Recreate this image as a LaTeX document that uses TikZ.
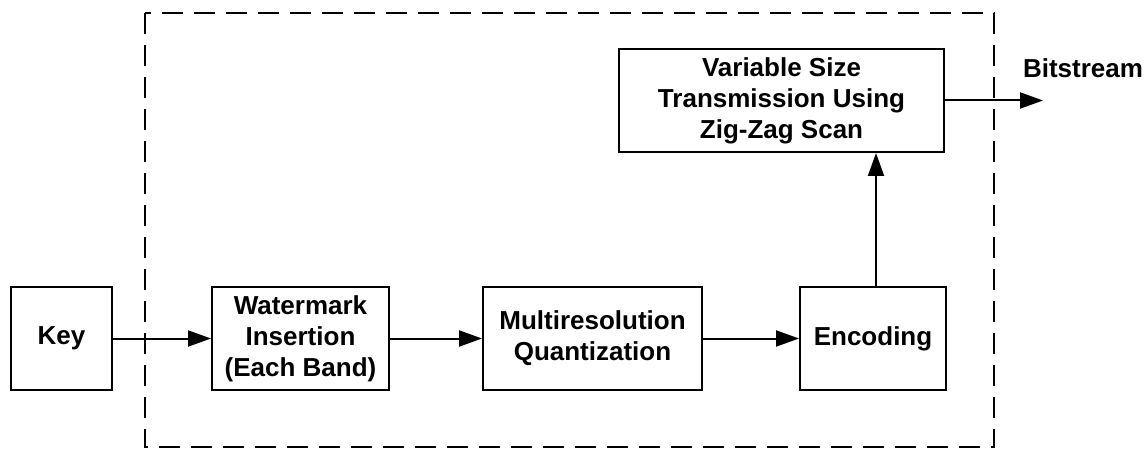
\documentclass[tikz,border=0pt]{standalone}
\usepackage{fontspec}
\setmainfont{Liberation Sans}
\usetikzlibrary{arrows.meta}
\begin{document}
\begin{tikzpicture}[x=1pt,y=-1pt,
  blk/.style={draw,line width=2pt,inner sep=0pt,align=center,
    font=\fontsize{26}{31}\selectfont\bfseries},
  conn/.style={line width=2pt,-{Triangle[length=23pt,width=16pt]}},
  frame/.style={line width=2pt,dash pattern=on 21pt off 11pt}]
\useasboundingbox (0,0) rectangle (1148,449);
\draw[frame] (145,13) rectangle (994,447);
\node[blk,minimum width=101pt,minimum height=103pt] (key) at (61.5,338.5) {Key};
\node[blk,minimum width=177pt,minimum height=103pt] (wm) at (300.5,338.5) {Watermark\\Insertion\\(Each Band)};
\node[blk,minimum width=219pt,minimum height=103pt] (mq) at (592.5,338.5) {Multiresolution\\Quantization};
\node[blk,minimum width=146pt,minimum height=103pt] (enc) at (873,338.5) {Encoding};
\node[blk,minimum width=325pt,minimum height=103pt] (vs) at (781.5,100.5) {Variable Size\\Transmission Using\\Zig-Zag Scan};
\node[font=\fontsize{26}{31}\selectfont\bfseries,inner sep=0pt] (bs) at (1083,68) {Bitstream};
\coordinate (out) at (1043,100.5);
\draw[conn] (key) -- (wm);
\draw[conn] (wm) -- (mq);
\draw[conn] (mq) -- (enc);
\draw[conn] (enc.north -| 876,0) -- (vs.south -| 876,0);
\draw[conn] (vs.east) -- (out);
\end{tikzpicture}
\end{document}
